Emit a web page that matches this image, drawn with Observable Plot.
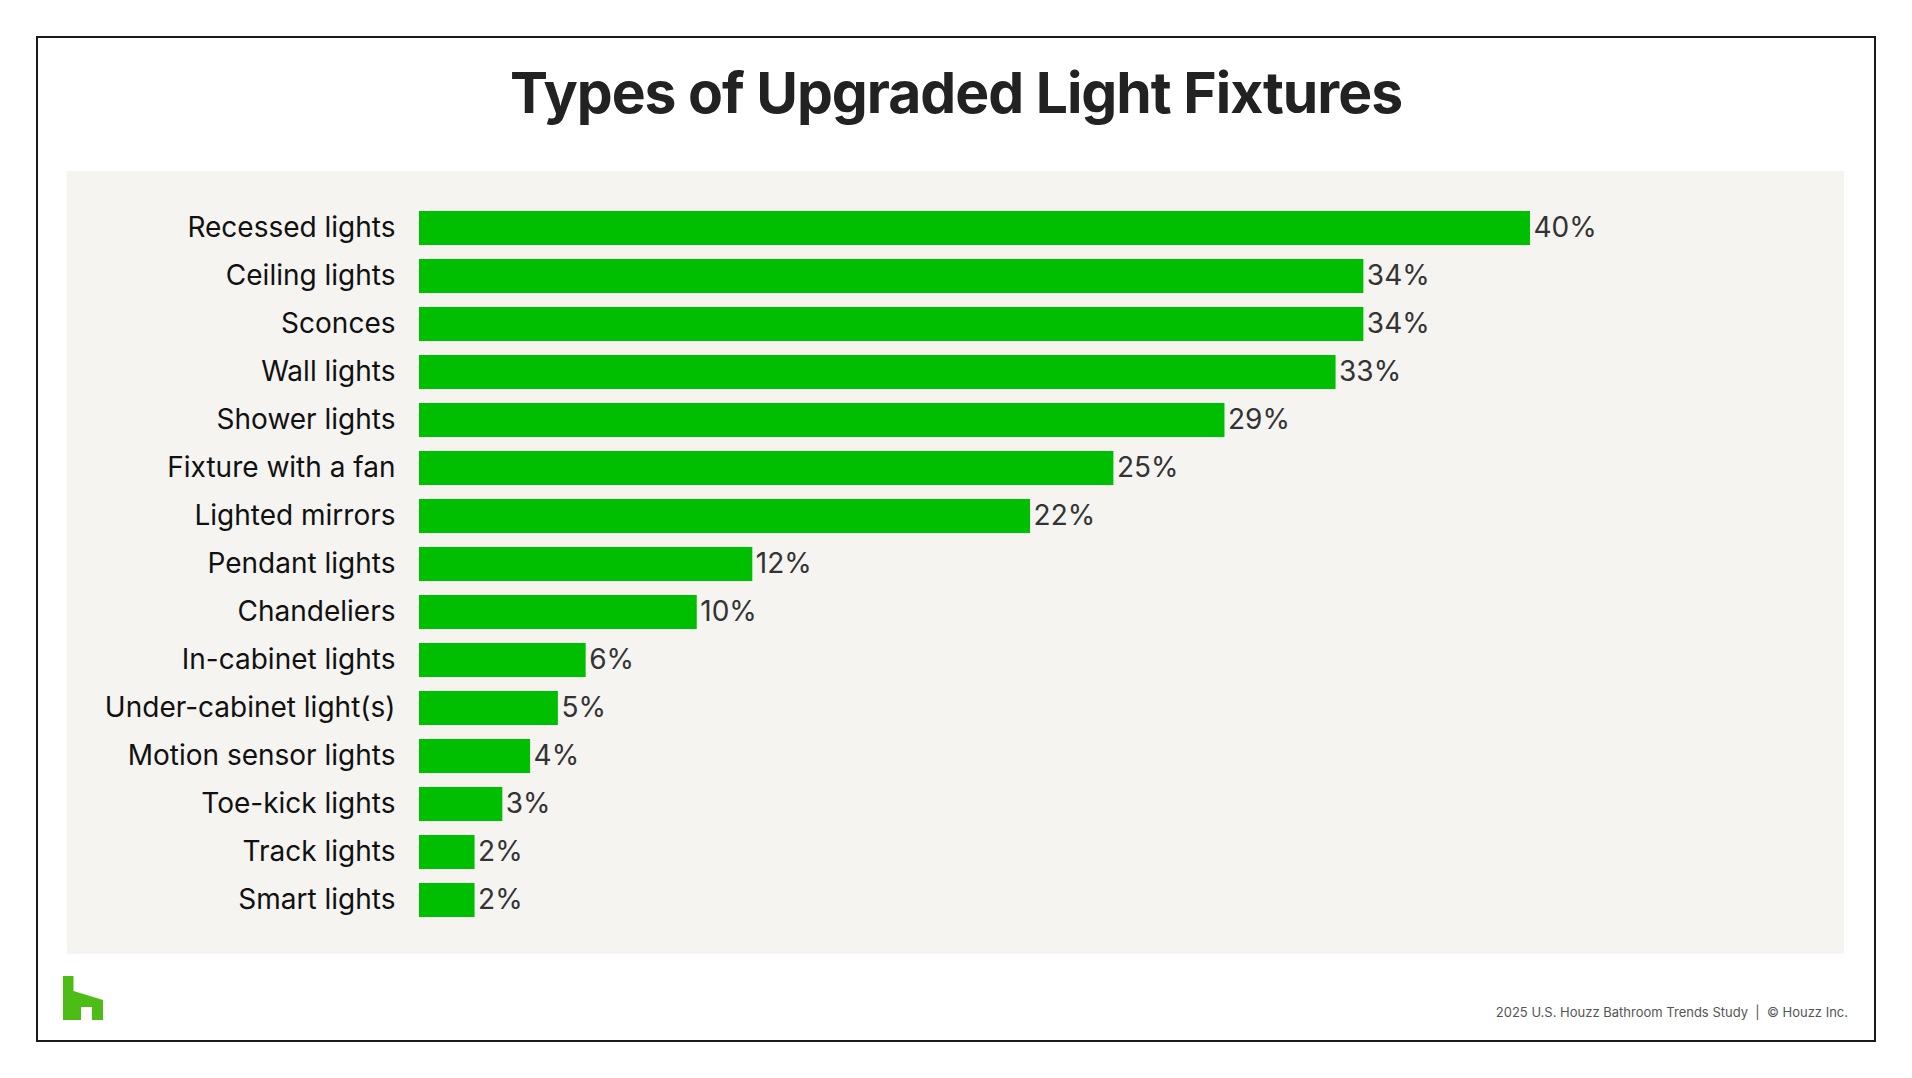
<!DOCTYPE html>
<html>
<head>
<meta charset="utf-8">
<script src="https://cdn.jsdelivr.net/npm/d3@7"></script>
<script src="https://cdn.jsdelivr.net/npm/@observablehq/plot@0.6"></script>
<style>
  html, body { margin: 0; padding: 0; background: #fff; width: 1912px; height: 1078px; overflow: hidden; }
  body { position: relative; font-family: Inter, "Noto Sans", sans-serif; }
  #frame { position: absolute; left: 36px; top: 36px; width: 1836px; height: 1002px; border: 2px solid #1a1a1a; }
  #title { position: absolute; left: 0; width: 1912px; top: 58px; text-align: center; font-size: 57px; font-weight: 700; color: #222; letter-spacing: -1px; line-height: 70px; }
  #panel { position: absolute; left: 67px; top: 171px; width: 1777px; height: 783px; background: #f5f4f1; }
  #logo { position: absolute; left: 63px; top: 976px; }
  #caption { position: absolute; right: 64px; top: 1004px; font-size: 13px; color: #555; font-family: Inter, sans-serif; }
</style>
</head>
<body>
<div id="frame"></div>
<div id="title">Types of Upgraded Light Fixtures</div>
<div id="panel"></div>
<svg id="logo" width="40" height="44" viewBox="0 0 40 44"><path d="M0 0H10.5V15L40 24V44H29V31H18V44H0Z" fill="#4dbc15"/></svg>
<div id="caption">2025 U.S. Houzz Bathroom Trends Study&nbsp; |&nbsp; © Houzz Inc.</div>
<script>
const categories = ["Recessed lights","Ceiling lights","Sconces","Wall lights","Shower lights","Fixture with a fan","Lighted mirrors","Pendant lights","Chandeliers","In-cabinet lights","Under-cabinet light(s)","Motion sensor lights","Toe-kick lights","Track lights","Smart lights"];
const values = [40,34,34,33,29,25,22,12,10,6,5,4,3,2,2];
const data = categories.map((c, i) => ({category: c, value: values[i]}));

const chart = Plot.plot({
  width: 1777,
  height: 783,
  marginLeft: 352,
  marginRight: 314,
  marginTop: 24,
  marginBottom: 20,
  style: {background: "transparent", fontFamily: "Inter, 'Noto Sans', sans-serif", overflow: "visible"},
  x: {domain: [0, 40], axis: null},
  y: {domain: categories, padding: 0.29, label: null},
  marks: [
    Plot.barX(data, {x: "value", y: "category", fill: "#00bf00"}),
    Plot.text(data, {x: "value", y: "category", text: d => d.value + "%", textAnchor: "start", dx: 3, fill: "#333", fontSize: 28}),
    Plot.axisY({tickSize: 0, tickPadding: 24, fontSize: 28, color: "#111", label: null})
  ]
});
chart.style.position = "absolute";
chart.style.left = "0px";
chart.style.top = "0px";
document.getElementById("panel").appendChild(chart);
</script>
</body>
</html>
